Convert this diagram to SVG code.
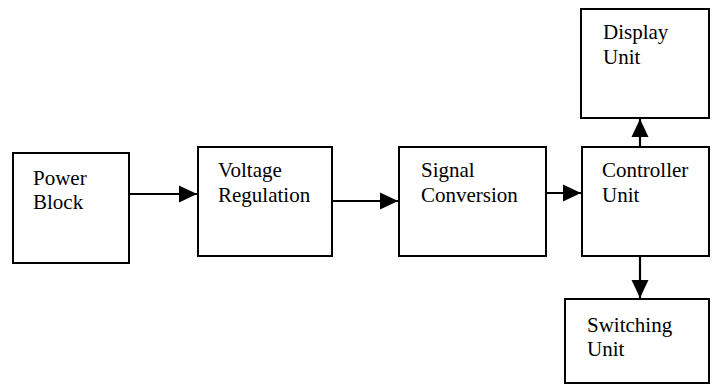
<svg xmlns="http://www.w3.org/2000/svg" width="716" height="385" viewBox="0 0 716 385">
<style>
.box{fill:#fff;stroke:#000;stroke-width:2}
.lbl{font-family:"Liberation Serif","Times New Roman",serif;font-size:21px;fill:#000}
.conn{stroke:#000;stroke-width:2.2;fill:none}
</style>
<defs>
<marker id="arr" markerUnits="userSpaceOnUse" markerWidth="18" markerHeight="18" viewBox="0 0 17 16" refX="17" refY="8" orient="auto">
<path d="M0,0 L17,8 L0,16 Z" fill="#000"/>
</marker>
</defs>
<rect width="716" height="385" fill="#fff"/>
<g id="power">
<rect class="box" x="13" y="153" width="116" height="110"/>
<text class="lbl" x="33" y="185">Power</text>
<text class="lbl" x="33" y="209">Block</text>
</g>
<g id="voltage">
<rect class="box" x="198" y="147" width="134" height="109"/>
<text class="lbl" x="218" y="177">Voltage</text>
<text class="lbl" x="218" y="202">Regulation</text>
</g>
<g id="signal">
<rect class="box" x="399" y="147" width="147" height="109"/>
<text class="lbl" x="421" y="177">Signal</text>
<text class="lbl" x="421" y="202">Conversion</text>
</g>
<g id="controller">
<rect class="box" x="582" y="147" width="127" height="109"/>
<text class="lbl" x="602" y="177">Controller</text>
<text class="lbl" x="602" y="202">Unit</text>
</g>
<g id="display">
<rect class="box" x="581" y="9" width="128" height="109"/>
<text class="lbl" x="603" y="39">Display</text>
<text class="lbl" x="603" y="64">Unit</text>
</g>
<g id="switching">
<rect class="box" x="565" y="299" width="144" height="84"/>
<text class="lbl" x="587" y="332">Switching</text>
<text class="lbl" x="587" y="356">Unit</text>
</g>
<g id="connectors">
<line class="conn" x1="129" y1="194" x2="197" y2="194" marker-end="url(#arr)"/>
<line class="conn" x1="332" y1="201" x2="398" y2="201" marker-end="url(#arr)"/>
<line class="conn" x1="546" y1="193" x2="581" y2="193" marker-end="url(#arr)"/>
<line class="conn" x1="640" y1="147" x2="640" y2="119" marker-end="url(#arr)"/>
<line class="conn" x1="640" y1="256" x2="640" y2="298" marker-end="url(#arr)"/>
</g>
</svg>
